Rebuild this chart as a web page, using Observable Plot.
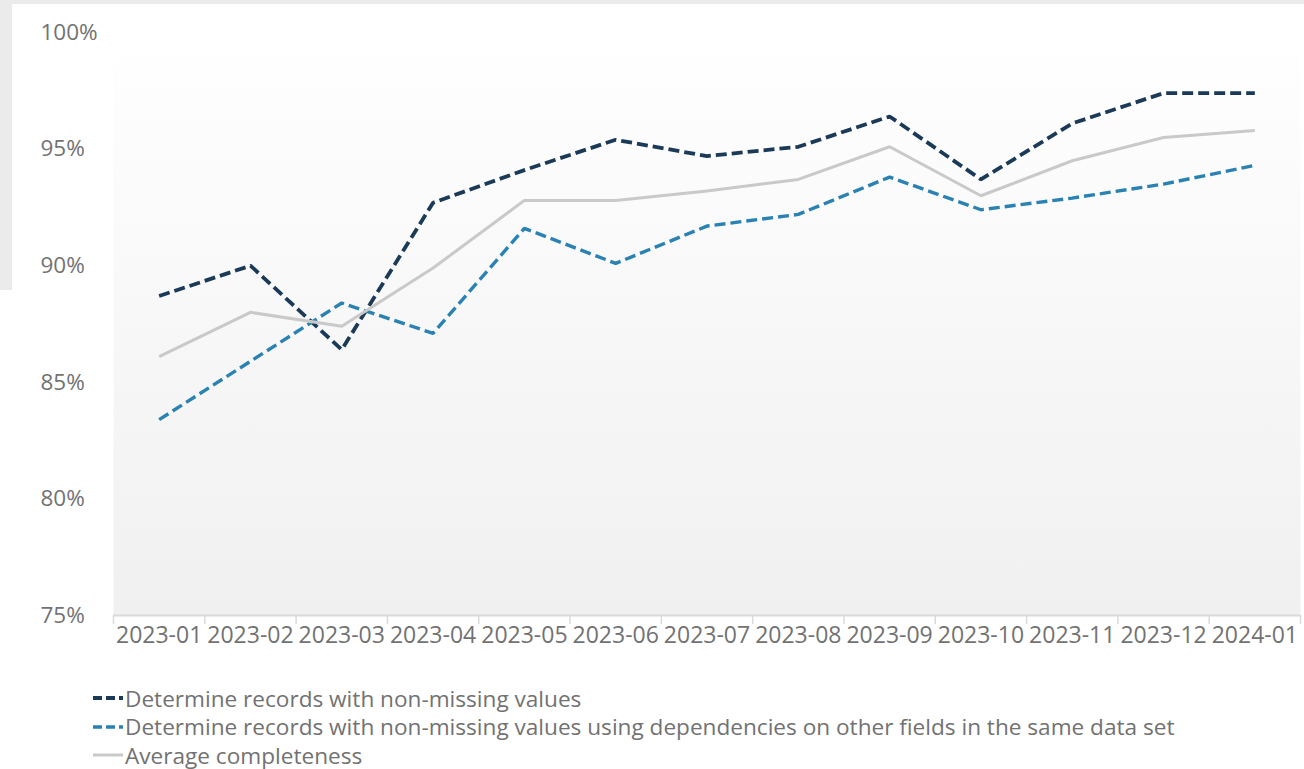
<!DOCTYPE html>
<html>
<head>
<meta charset="utf-8">
<script src="https://cdn.jsdelivr.net/npm/d3@7"></script>
<script src="https://cdn.jsdelivr.net/npm/@observablehq/plot@0.6"></script>
<style>
  html, body { margin: 0; padding: 0; background: #ffffff; }
  body { width: 1304px; height: 769px; position: relative; overflow: hidden; font-family: "Open Sans", sans-serif; }
  #topstrip { position: absolute; left: 0; top: 0; width: 1304px; height: 4px; background: #ebebeb; }
  #leftstrip { position: absolute; left: 0; top: 0; width: 12px; height: 290px; background: #ebebeb; }
  #chart { position: absolute; left: 0; top: 0; }
  #legend { position: absolute; left: 93px; top: 684px; color: #727272; font-size: 22.6px; }
  .row { display: flex; align-items: center; height: 28.5px; white-space: nowrap; }
  .row svg { width: 30px; height: 10px; margin-right: 2px; flex: none; }
</style>
</head>
<body>
<div id="topstrip"></div>
<div id="leftstrip"></div>
<div id="chart"></div>
<div id="legend"></div>
<script>
const months = ["2023-01","2023-02","2023-03","2023-04","2023-05","2023-06","2023-07","2023-08","2023-09","2023-10","2023-11","2023-12","2024-01"];
const seriesNames = [
  "Determine records with non-missing values",
  "Determine records with non-missing values using dependencies on other fields in the same data set",
  "Average completeness"
];
const nonMissing = [88.7, 90.0, 86.4, 92.7, 94.1, 95.4, 94.7, 95.1, 96.4, 93.7, 96.1, 97.4, 97.4];
const withDependencies = [83.4, 85.9, 88.4, 87.1, 91.6, 90.1, 91.7, 92.2, 93.8, 92.4, 92.9, 93.5, 94.3];
const averageCompleteness = [86.1, 88.0, 87.4, 89.9, 92.8, 92.8, 93.2, 93.7, 95.1, 93.0, 94.5, 95.5, 95.8];
const yTicks = [75, 80, 85, 90, 95, 100];

const colors = ["#1b3a58", "#2a82b2", "#c9c9c9"];
const dashes = ["11,5", "11,5", null];
const widths = [3.8, 3.4, 3];

const seriesValues = [nonMissing, withDependencies, averageCompleteness];
const tables = seriesValues.map((vals, s) => months.map((m, i) => ({month: m, pos: i + 0.5, value: vals[i], series: seriesNames[s]})));

const gradientMark = () => {
  const ns = "http://www.w3.org/2000/svg";
  const defs = document.createElementNS(ns, "defs");
  const lg = document.createElementNS(ns, "linearGradient");
  lg.setAttribute("id", "panelbg");
  lg.setAttribute("x1", "0"); lg.setAttribute("y1", "0");
  lg.setAttribute("x2", "0"); lg.setAttribute("y2", "1");
  [["0%", "#ffffff"], ["100%", "#f0f0f0"]].forEach(([o, c]) => {
    const st = document.createElementNS(ns, "stop");
    st.setAttribute("offset", o);
    st.setAttribute("stop-color", c);
    lg.appendChild(st);
  });
  defs.appendChild(lg);
  return defs;
};

const chart = Plot.plot({
  width: 1304,
  height: 662,
  marginLeft: 113,
  marginRight: 4,
  marginTop: 32,
  marginBottom: 47,
  style: {fontFamily: "'Open Sans', sans-serif", fontSize: "22px", color: "#727272", background: "transparent"},
  x: {domain: [0, months.length], axis: null},
  y: {domain: [75, 100], axis: null},
  marks: [
    gradientMark,
    Plot.frame({fill: "url(#panelbg)", stroke: null}),
    Plot.ruleY([75], {stroke: "#dadada", strokeWidth: 2}),
    Plot.axisX({ticks: d3.range(months.length + 1), tickFormat: () => "", tickSize: 9, stroke: "#dadada", strokeWidth: 1.5, label: null}),
    Plot.axisX({ticks: months.map((m, i) => i + 0.5), tickFormat: d => months[Math.round(d - 0.5)], tickSize: 0, tickPadding: 11, fontSize: 23, fill: "#727272", label: null}),
    Plot.text(yTicks, {y: d => d, text: d => d + "%", frameAnchor: "left", textAnchor: "start", dx: -73, fontSize: 22.5, fill: "#727272"}),
    ...tables.map((t, s) => Plot.line(t, {x: "pos", y: "value", stroke: colors[s], strokeWidth: widths[s], strokeDasharray: dashes[s], strokeLinejoin: "miter", strokeLinecap: "butt"}))
  ]
});
document.getElementById("chart").appendChild(chart);

const legend = document.getElementById("legend");
seriesNames.forEach((name, s) => {
  const row = document.createElement("div");
  row.className = "row";
  const dash = dashes[s] ? `stroke-dasharray="9,4"` : "";
  row.innerHTML = `<svg viewBox="0 0 30 10"><line x1="0" y1="5" x2="30" y2="5" stroke="${colors[s]}" stroke-width="${widths[s]}" ${dash}/></svg><span>${name}</span>`;
  legend.appendChild(row);
});
</script>
</body>
</html>
